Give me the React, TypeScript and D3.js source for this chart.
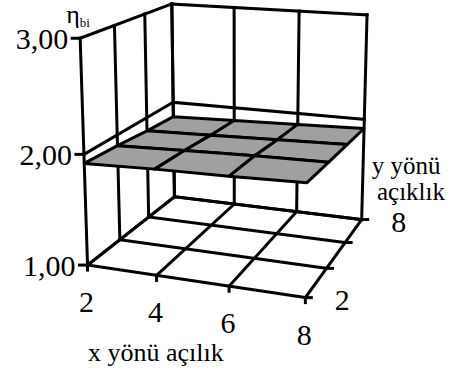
import React, { useMemo } from "react";
import * as d3 from "d3";

const WIDTH = 453;
const HEIGHT = 376;
const FONT = "'Liberation Serif', 'Times New Roman', serif";

// Spacing values along the two horizontal axes and the value ticks
const xSpacings = [2, 4, 6, 8];
const ySpacings = [2, 4, 6, 8];
const zTicks = [1, 2, 3];
const yLabelled = [2, 8];

// η_bi for x spacing 2, 4, 6, 8 — one array per y spacing
const etaY2 = [1.92, 1.94, 1.95, 1.97];
const etaY4 = [1.9, 1.92, 1.94, 1.95];
const etaY6 = [1.87, 1.89, 1.91, 1.93];
const etaY8 = [1.85, 1.87, 1.89, 1.91];
const etaRows = [etaY2, etaY4, etaY6, etaY8];

// Screen placement of the plot box corners (unit cube -> px), used to fit the camera
const BOX_CORNERS: [number, number, number, number, number][] = [
  [0, 0, 0, 88, 265],
  [1, 0, 0, 305, 298],
  [1, 1, 0, 362, 219],
  [0, 1, 0, 174, 197],
  [0, 0, 1, 80, 38],
  [0, 1, 1, 172, 4],
  [1, 1, 1, 367, 15],
];

// Least-squares fit of a 3x4 perspective camera matrix (last entry fixed to 1)
function fitCamera(pts: [number, number, number, number, number][]) {
  const rows: number[][] = [];
  const rhs: number[] = [];
  for (const [X, Y, Z, u, v] of pts) {
    rows.push([X, Y, Z, 1, 0, 0, 0, 0, -u * X, -u * Y, -u * Z]);
    rhs.push(u);
    rows.push([0, 0, 0, 0, X, Y, Z, 1, -v * X, -v * Y, -v * Z]);
    rhs.push(v);
  }
  const n = 11;
  const M: number[][] = [];
  for (let i = 0; i < n; i++) {
    const r: number[] = [];
    for (let j = 0; j < n; j++) {
      let s = 0;
      for (let k = 0; k < rows.length; k++) s += rows[k][i] * rows[k][j];
      r.push(s);
    }
    let b = 0;
    for (let k = 0; k < rows.length; k++) b += rows[k][i] * rhs[k];
    r.push(b);
    M.push(r);
  }
  for (let c = 0; c < n; c++) {
    let piv = c;
    for (let r = c + 1; r < n; r++) if (Math.abs(M[r][c]) > Math.abs(M[piv][c])) piv = r;
    [M[c], M[piv]] = [M[piv], M[c]];
    for (let r = 0; r < n; r++) {
      if (r === c) continue;
      const f = M[r][c] / M[c][c];
      for (let k = c; k <= n; k++) M[r][k] -= f * M[c][k];
    }
  }
  return M.map((r, i) => r[n] / r[i]);
}

export default function App() {
  const cam = useMemo(() => fitCamera(BOX_CORNERS), []);

  const sx = d3.scaleLinear().domain([2, 8]).range([0, 1]);
  const sy = d3.scaleLinear().domain([2, 8]).range([0, 1]);
  const sz = d3.scaleLinear().domain([1, 3]).range([0, 1]);

  const P = (x: number, y: number, z: number): [number, number] => {
    const X = sx(x), Y = sy(y), Z = sz(z);
    const w = cam[8] * X + cam[9] * Y + cam[10] * Z + 1;
    return [
      (cam[0] * X + cam[1] * Y + cam[2] * Z + cam[3]) / w,
      (cam[4] * X + cam[5] * Y + cam[6] * Z + cam[7]) / w,
    ];
  };

  const fmt = d3
    .formatLocale({ decimal: ",", thousands: ".", grouping: [3], currency: ["", ""] })
    .format(".2f");

  const xMin = xSpacings[0], xMax = xSpacings[xSpacings.length - 1];
  const yMin = ySpacings[0], yMax = ySpacings[ySpacings.length - 1];
  const zMin = zTicks[0], zMax = zTicks[zTicks.length - 1];

  const segs: [[number, number], [number, number]][] = [];
  // left wall (x = xMin)
  ySpacings.forEach((y) => segs.push([P(xMin, y, zMin), P(xMin, y, zMax)]));
  zTicks.forEach((z) => segs.push([P(xMin, yMin, z), P(xMin, yMax, z)]));
  // back wall (y = yMax)
  xSpacings.forEach((x) => segs.push([P(x, yMax, zMin), P(x, yMax, zMax)]));
  zTicks.forEach((z) => segs.push([P(xMin, yMax, z), P(xMax, yMax, z)]));
  // floor
  xSpacings.forEach((x) => segs.push([P(x, yMin, zMin), P(x, yMax, zMin)]));
  ySpacings.forEach((y) => segs.push([P(xMin, y, zMin), P(xMax, y, zMin)]));

  // tick marks
  const ticks: [[number, number], [number, number]][] = [];
  zTicks.forEach((z) => {
    const [a, b] = P(xMin, yMin, z);
    ticks.push([[a - 8, b], [a, b]]);
  });
  xSpacings.forEach((x) => {
    const [a, b] = P(x, yMin, zMin);
    ticks.push([[a, b], [a, b + 5]]);
  });
  ySpacings.forEach((y) => {
    const [a, b] = P(xMax, y, zMin);
    ticks.push([[a, b], [a + 6, b]]);
  });

  const line = d3.line();

  // surface cells, back rows first
  const cells: { d: string; key: string }[] = [];
  for (let j = ySpacings.length - 2; j >= 0; j--) {
    for (let i = 0; i < xSpacings.length - 1; i++) {
      const pts = [
        P(xSpacings[i], ySpacings[j], etaRows[j][i]),
        P(xSpacings[i + 1], ySpacings[j], etaRows[j][i + 1]),
        P(xSpacings[i + 1], ySpacings[j + 1], etaRows[j + 1][i + 1]),
        P(xSpacings[i], ySpacings[j + 1], etaRows[j + 1][i]),
      ];
      cells.push({ d: line(pts)! + "Z", key: `${i}-${j}` });
    }
  }

  const top = P(xMin, yMin, zMax);
  const txt = { fontFamily: FONT };

  return (
    <svg
      width={WIDTH}
      height={HEIGHT}
      style={{ position: "absolute", left: 0, top: 0, background: "#fff" }}
    >
      <g stroke="#000" strokeWidth={3} strokeLinecap="square" fill="none">
        {segs.map((s, i) => (
          <path key={i} d={line(s)!} />
        ))}
        {ticks.map((s, i) => (
          <path key={"t" + i} d={line(s)!} />
        ))}
      </g>
      <g stroke="#000" strokeWidth={3} strokeLinejoin="round" fill="#a0a0a0">
        {cells.map((c) => (
          <path key={c.key} d={c.d} />
        ))}
      </g>
      {zTicks.map((z) => {
        const [a, b] = P(xMin, yMin, z);
        return (
          <text key={z} x={a - 12} y={b + 11} fontSize={30} textAnchor="end" style={txt}>
            {fmt(z)}
          </text>
        );
      })}
      <text x={top[0] - 14} y={top[1] - 15} fontSize={26} style={txt}>
        η<tspan fontSize={13} dy={4}>bi</tspan>
      </text>
      {xSpacings.map((x) => {
        const [a, b] = P(x, yMin, zMin);
        return (
          <text key={x} x={a - 1} y={b + 47} fontSize={30} textAnchor="middle" style={txt}>
            {x}
          </text>
        );
      })}
      {yLabelled.map((y) => {
        const [a, b] = P(xMax, y, zMin);
        return (
          <text key={y} x={a + 37} y={b + 12} fontSize={30} textAnchor="middle" style={txt}>
            {y}
          </text>
        );
      })}
      <text x={88} y={361} fontSize={26} style={txt}>
        x yönü açılık
      </text>
      <text x={406} y={174} fontSize={25} textAnchor="middle" style={txt}>
        y yönü
      </text>
      <text x={411} y={200} fontSize={25} textAnchor="middle" style={txt}>
        açıklık
      </text>
    </svg>
  );
}
